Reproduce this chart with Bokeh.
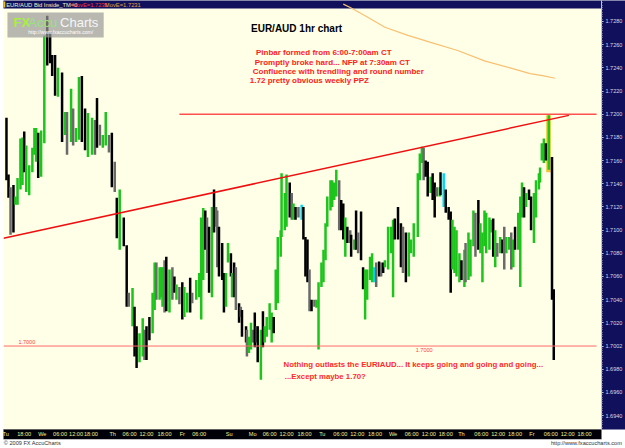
import numpy as np
from bokeh.plotting import figure
from bokeh.models import (Range1d, FixedTicker, NumeralTickFormatter, Label,
                          BoxAnnotation, ColumnDataSource, LinearAxis)
from bokeh.embed import file_html
from bokeh.resources import INLINE

# ---------------- data (chart hours since Tue ~12:00, EUR/AUD price) ----------------
bar_t = [0.0, 0.7, 1.4, 2.4, 3.1, 3.8, 4.8, 5.5, 6.1, 6.8, 7.8, 8.9, 9.6, 10.2, 10.9, 11.9,
         13.0, 14.0, 15.0, 15.7, 16.7, 17.7, 19.1, 20.1, 20.8, 22.2, 22.9, 23.9, 24.9, 25.9,
         27.0, 28.0, 29.4, 30.4, 31.1, 32.1, 33.1, 34.1, 35.2, 36.2, 37.2, 37.9, 38.9, 40.3,
         41.3, 42.0, 43.3, 44.0, 44.7, 45.7, 46.8, 47.4, 48.1, 49.1, 50.2, 50.9, 51.5, 52.6,
         53.2, 53.6, 54.3, 54.9, 56.0, 57.0, 57.7, 58.4, 59.4, 60.4, 61.1, 62.1, 63.1, 63.8,
         65.2, 66.2, 66.9, 67.6, 68.3, 68.9, 69.6, 70.6, 71.3, 72.0, 72.4, 73.0, 74.1, 74.7,
         75.4, 76.1, 77.1, 77.5, 78.2, 78.8, 79.9, 80.5, 80.9, 82.3, 82.6, 83.3, 84.0, 84.6,
         85.3, 86.0, 86.3, 87.4, 88.1, 88.7, 89.4, 90.4, 91.1, 91.8, 92.5, 93.2, 94.2, 94.5,
         95.6, 96.2, 97.3, 98.0, 98.6, 99.3, 100.3, 101.4, 102.0, 102.7, 103.4, 104.1, 104.8,
         105.8, 106.5, 107.2, 108.2, 108.9, 109.6, 110.2, 111.3, 111.9, 112.6, 113.3, 114.3,
         115.0, 115.7, 116.4, 117.1, 118.1, 118.4, 119.5, 120.1, 120.8, 121.8, 122.5, 123.2,
         123.9, 124.9, 125.6, 126.3, 127.0, 128.0, 128.7, 129.4, 130.0, 131.1, 132.1, 132.8,
         133.4, 134.5, 135.5, 136.2, 137.2, 138.2, 138.9, 139.9, 141.3, 142.0, 142.7, 143.3,
         144.0, 144.7, 145.7, 146.4, 147.1, 147.8, 148.8, 149.1, 150.2, 150.9, 151.9, 152.6,
         153.2, 153.9, 154.6, 155.6, 156.3, 157.3, 157.7, 158.7, 159.4, 160.4, 161.1, 162.1,
         162.8, 163.5, 164.2, 164.8, 165.9, 166.6, 167.2, 167.9, 168.6, 169.6, 170.3, 171.0,
         171.7, 172.7, 173.4, 174.1, 174.7, 175.8, 176.5, 177.1, 177.8, 178.5, 179.5, 180.2,
         181.2, 181.9, 182.9, 183.3, 183.9, 184.6, 185.3, 186.3, 187.4, 188.0]

bar_high = [1.7197, 1.7148, 1.7137, 1.7139, 1.7129, 1.7145, 1.7179, 1.7180, 1.7185, 1.7173,
            1.7156, 1.7171, 1.7188, 1.7188, 1.7184, 1.7186, 1.7268, 1.7285, 1.7271, 1.7251,
            1.7251, 1.7240, 1.7236, 1.7202, 1.7202, 1.7222, 1.7205, 1.7188, 1.7232, 1.7233,
            1.7205, 1.7201, 1.7197, 1.7195, 1.7214, 1.7191, 1.7182, 1.7202, 1.7182, 1.7184,
            1.7159, 1.7128, 1.7135, 1.7111, 1.7087, 1.7046, 1.7050, 1.7034, 1.7017, 1.7011,
            1.7024, 1.7014, 1.7017, 1.7025, 1.7046, 1.7072, 1.7072, 1.7068, 1.7068, 1.7068,
            1.7074, 1.7077, 1.7066, 1.7068, 1.7060, 1.7053, 1.7051, 1.7055, 1.7051, 1.7046,
            1.7059, 1.7046, 1.7057, 1.7063, 1.7111, 1.7119, 1.7117, 1.7111, 1.7103, 1.7120,
            1.7135, 1.7120, 1.7117, 1.7103, 1.7089, 1.7063, 1.7063, 1.7089, 1.7080, 1.7063,
            1.7072, 1.7068, 1.7037, 1.7034, 1.7031, 1.7017, 1.7014, 1.7008, 1.7020, 1.7014,
            1.7029, 1.7017, 1.7017, 1.7014, 1.7030, 1.7017, 1.7025, 1.7037, 1.7029, 1.7025,
            1.7066, 1.7094, 1.7100, 1.7149, 1.7132, 1.7148, 1.7141, 1.7132, 1.7123, 1.7120,
            1.7120, 1.7122, 1.7120, 1.7094, 1.7092, 1.7066, 1.7040, 1.7040, 1.7040, 1.7055,
            1.7072, 1.7083, 1.7106, 1.7129, 1.7143, 1.7143, 1.7141, 1.7152, 1.7143, 1.7126,
            1.7123, 1.7111, 1.7103, 1.7100, 1.7096, 1.7092, 1.7117, 1.7098, 1.7116, 1.7068,
            1.7066, 1.7066, 1.7077, 1.7080, 1.7068, 1.7072, 1.7073, 1.7072, 1.7072, 1.7074,
            1.7103, 1.7103, 1.7109, 1.7110, 1.7120, 1.7106, 1.7103, 1.7098, 1.7098, 1.7092,
            1.7106, 1.7149, 1.7166, 1.7172, 1.7171, 1.7160, 1.7159, 1.7146, 1.7149, 1.7141,
            1.7137, 1.7137, 1.7150, 1.7149, 1.7135, 1.7120, 1.7116, 1.7109, 1.7103, 1.7100,
            1.7080, 1.7074, 1.7083, 1.7089, 1.7098, 1.7092, 1.7117, 1.7115, 1.7126, 1.7106,
            1.7098, 1.7117, 1.7115, 1.7111, 1.7109, 1.7110, 1.7100, 1.7089, 1.7094, 1.7092,
            1.7103, 1.7094, 1.7094, 1.7098, 1.7092, 1.7103, 1.7115, 1.7129, 1.7141, 1.7137,
            1.7132, 1.7135, 1.7129, 1.7132, 1.7143, 1.7149, 1.7154, 1.7175, 1.7179, 1.7175,
            1.7199, 1.7163, 1.7049]

bar_low = [1.7143, 1.7128, 1.7096, 1.7098, 1.7122, 1.7122, 1.7135, 1.7139, 1.7150, 1.7133,
           1.7130, 1.7150, 1.7165, 1.7159, 1.7145, 1.7146, 1.7175, 1.7242, 1.7244, 1.7233,
           1.7216, 1.7215, 1.7176, 1.7182, 1.7165, 1.7176, 1.7173, 1.7176, 1.7178, 1.7176,
           1.7169, 1.7163, 1.7165, 1.7165, 1.7171, 1.7173, 1.7171, 1.7173, 1.7167, 1.7137,
           1.7133, 1.7093, 1.7083, 1.7086, 1.7034, 1.7034, 1.7017, 1.6991, 1.6981, 1.6986,
           1.6991, 1.6988, 1.6988, 1.7005, 1.7011, 1.7031, 1.7040, 1.7040, 1.7042, 1.7034,
           1.7029, 1.7030, 1.7029, 1.7040, 1.7046, 1.7040, 1.7036, 1.7023, 1.7025, 1.7029,
           1.7029, 1.7037, 1.7040, 1.7042, 1.7023, 1.7057, 1.7083, 1.7063, 1.7046, 1.7042,
           1.7098, 1.7103, 1.7068, 1.7060, 1.7057, 1.7029, 1.7034, 1.7072, 1.7060, 1.7042,
           1.7042, 1.7031, 1.7020, 1.7025, 1.7008, 1.7003, 1.6991, 1.6994, 1.6997, 1.7003,
           1.6999, 1.7003, 1.6986, 1.6971, 1.6999, 1.7003, 1.7008, 1.7014, 1.7003, 1.7011,
           1.7031, 1.7037, 1.7077, 1.7094, 1.7100, 1.7103, 1.7111, 1.7109, 1.7109, 1.7109,
           1.7111, 1.7109, 1.7092, 1.7060, 1.7055, 1.7030, 1.7030, 1.7034, 1.7033, 1.6997,
           1.7051, 1.7055, 1.7074, 1.7103, 1.7117, 1.7120, 1.7126, 1.7129, 1.7100, 1.7100,
           1.7092, 1.7077, 1.7089, 1.7089, 1.7077, 1.7083, 1.7083, 1.7080, 1.7074, 1.7049,
           1.7023, 1.7040, 1.7057, 1.7055, 1.7055, 1.7051, 1.7060, 1.7060, 1.7063, 1.7068,
           1.7066, 1.7080, 1.7042, 1.7092, 1.7092, 1.7068, 1.7063, 1.7055, 1.7060, 1.7080,
           1.7077, 1.7094, 1.7143, 1.7158, 1.7143, 1.7146, 1.7129, 1.7132, 1.7126, 1.7111,
           1.7129, 1.7129, 1.7130, 1.7120, 1.7115, 1.7109, 1.7046, 1.7066, 1.7063, 1.7060,
           1.7055, 1.7057, 1.7051, 1.7055, 1.7057, 1.7060, 1.7086, 1.7077, 1.7083, 1.7080,
           1.7055, 1.7086, 1.7080, 1.7083, 1.7098, 1.7077, 1.7068, 1.7077, 1.7080, 1.7080,
           1.7066, 1.7080, 1.7083, 1.7066, 1.7068, 1.7083, 1.7083, 1.7051, 1.7111, 1.7111,
           1.7120, 1.7126, 1.7100, 1.7089, 1.7111, 1.7135, 1.7141, 1.7160, 1.7158, 1.7160,
           1.7152, 1.7040, 1.6988]

# g = up bar (green), k = down bar (black), gr = down bar mostly wick (grey), c = cyan bar
bar_kind = ("k k gr k g g g g k g "
            "g g g g k g g k k k "
            "k g k g gr g gr g g k "
            "k g g gr k gr g g gr k "
            "gr k g k k gr g k k g "
            "g gr k k g g gr g g g "
            "gr k g gr k g gr k g g "
            "k gr g g g g k gr k g "
            "k gr gr k k k g g k g "
            "k gr k gr k k gr g g gr "
            "k gr k g k g g g g k "
            "g g g g g g k gr g k "
            "gr c k k k gr k gr g g "
            "g g g g g g g g gr k "
            "k g k gr k g k gr k k "
            "g g g g c gr k gr k g "
            "g g g k k k gr k g g "
            "g g g g gr k k g k k "
            "gr g k c k k k g g g "
            "g k g gr g g g gr k g "
            "g g g g g k g gr g k "
            "gr g g gr g k g g g k "
            "g k k g g g g g g k "
            "g k k").split()

ma_t = [115.7, 118.1, 123.2, 130.0, 137.9, 145.7, 155.0, 164.2, 173.0, 179.9, 184.6, 188.4]
ma_price = [1.7295, 1.7292, 1.7285, 1.7275, 1.7268, 1.7262, 1.7255, 1.7246, 1.7240,
            1.7235, 1.7233, 1.7231]

trend_t = [-1.0, 193.2]
trend_price = [1.7093, 1.7199]
level_172_t = [59.4, 202.7]
level_170_t = [-1.0, 202.7]
last_price = 1.7002

price_ticks = [1.694, 1.696, 1.698, 1.700, 1.702, 1.704, 1.706, 1.708, 1.710, 1.712,
               1.714, 1.716, 1.718, 1.720, 1.722, 1.724, 1.726, 1.728]
time_ticks = [-0.3, 6.1, 12.3, 18.4, 23.9, 29.0, 36.5, 42.3, 48.1, 54.3, 60.4, 66.2, 76.5,
              84.6, 90.4, 96.2, 102.4, 108.5, 114.7, 120.5, 126.6, 132.8, 139.2, 145.1,
              150.9, 156.3, 163.1, 168.9, 174.7, 180.5, 187.0, 192.8, 198.6]
time_labels = ["Tu", "18:00", "We", "06:00", "12:00", "18:00", "Th", "06:00", "12:00",
               "18:00", "Fr", "06:00", "Su", "Mo", "06:00", "12:00", "18:00", "Tu", "06:00",
               "12:00", "18:00", "We", "06:00", "12:00", "18:00", "Th", "06:00", "12:00",
               "18:00", "Fr", "06:00", "12:00", "18:00"]
footer_ticks = [8.9, 199.2]
footer_labels = ["\u00a9 2009 FX AccuCharts", "http://www.fxaccucharts.com"]

FONT = "Liberation Sans"
NAVY = "#10105C"
kind_color = {"g": "#1CC41C", "k": "#000000", "gr": "#6A6A6A", "c": "#00D8F0"}

Y_TOP, Y_PLOT_TOP, Y_BOTTOM = 1.72981, 1.72912, 1.69280
X_LEFT, X_RIGHT = -1.02, 204.4

p = figure(width=625, height=448, output_backend="svg", toolbar_location=None,
           x_range=Range1d(X_LEFT, X_RIGHT), y_range=Range1d(Y_BOTTOM, Y_TOP),
           y_axis_location="right", min_border_left=3, min_border_right=20,
           min_border_top=0, min_border_bottom=18,
           background_fill_color="#FFFFE8", border_fill_color=NAVY,
           outline_line_color=None)
p.grid.visible = False

xax = p.xaxis[0]
yax = p.yaxis[0]
axis_bg = "background_fill_color" in yax.properties()

# header strip (top rows of the frame)
p.quad(left=[X_LEFT - 5], right=[X_RIGHT + 5], top=[Y_TOP + 0.001], bottom=[Y_PLOT_TOP],
       fill_color=NAVY, line_color=None)
p.quad(left=[X_LEFT - 5], right=[-0.4], top=[1.72972], bottom=[1.72920],
       fill_color="#F0C000", line_color=None)

# pin bar highlight
p.quad(left=[185.4], right=[187.0], top=[1.7199], bottom=[1.7150],
       fill_color="#F2C42A", fill_alpha=0.95, line_color=None)

src = ColumnDataSource(dict(t=bar_t, high=bar_high, low=bar_low,
                            color=[kind_color[k] for k in bar_kind]))
p.segment(x0="t", y0="low", x1="t", y1="high", line_color="color", line_width=2.5,
          source=src)

p.line(ma_t, ma_price, line_color="#F8C070", line_width=1.2)
p.line(level_170_t, [1.7000, 1.7000], line_color="#FF6A6A", line_width=1)
p.line(level_172_t, [1.7200, 1.7200], line_color="#FF5050", line_width=1.6)
p.line(trend_t, trend_price, line_color="#EE1010", line_width=1.5)

# time axis
xax.ticker = FixedTicker(ticks=time_ticks)
xax.major_label_overrides = dict(zip(time_ticks, time_labels))
xax.major_tick_out = 0
xax.major_tick_in = 0
xax.minor_tick_out = 0
xax.axis_line_color = "#606060"
xax.major_label_standoff = 1
xax.major_label_text_font = FONT
xax.major_label_text_font_size = "5.6px"
xax.major_label_text_color = "#F4F090"

# footer row as a second, tickless axis
fax = LinearAxis(ticker=FixedTicker(ticks=footer_ticks),
                 major_label_overrides=dict(zip(footer_ticks, footer_labels)),
                 major_tick_out=0, major_tick_in=0, minor_tick_out=0, minor_tick_in=0,
                 axis_line_color=None, major_label_standoff=0,
                 major_label_text_font=FONT, major_label_text_font_size="5.6px",
                 major_label_text_color="#303030")
p.add_layout(fax, "below")

if axis_bg:
    p.border_fill_color = "#FFFFFF"
    xax.background_fill_color = "#000008"
    yax.background_fill_color = NAVY
    fax.background_fill_color = "#FFFFFF"

# price axis
yax.ticker = FixedTicker(ticks=price_ticks,
                         minor_ticks=list(np.arange(1.6930, 1.7298, 0.0002)))
yax.formatter = NumeralTickFormatter(format="0.0000")
yax.major_label_overrides = {1.700: "%.4f" % last_price}
yax.major_tick_out = 2
yax.major_tick_in = 0
yax.minor_tick_out = 1
yax.minor_tick_in = 0
yax.axis_line_color = "#C8C8D8"
yax.major_tick_line_color = "#D8D8E8"
yax.minor_tick_line_color = "#A8A8C0"
yax.major_label_standoff = 2
yax.major_label_text_font = FONT
yax.major_label_text_font_size = "5.5px"
yax.major_label_text_color = "#D8D8EC"

# header texts
for x, txt, col in [(-0.1, "EUR/AUD Bid Inside_TM=0", "#F0F0C8"),
                    (22.5, "MovE=1.7231", "#FF3030"),
                    (33.8, "MovE=1.7231", "#E0A040")]:
    p.add_layout(Label(x=x, y=1.72946, text=txt, text_font=FONT, text_font_size="5.8px",
                       text_baseline="middle", text_color=col))

# watermark logo
p.add_layout(BoxAnnotation(left=0.34, right=33.4, top=1.72877, bottom=1.72662,
                           fill_color="#9A9A9A", fill_alpha=0.7, line_color=None))
for x, txt, col, style in [(2.4, "FX", "#A8F040", "bold"), (7.5, "Accu", "#9CE07C", "normal"),
                           (18.4, "Charts", "#F6F6F6", "normal")]:
    p.add_layout(Label(x=x, y=1.72791, text=txt, text_font=FONT, text_font_size="13px",
                       text_font_style=style, text_baseline="middle", text_color=col))
p.add_layout(Label(x=7.5, y=1.72705, text="http://www.fxaccucharts.com/", text_font=FONT,
                   text_font_size="5px", text_baseline="middle", text_color="#FFFFFF"))

# chart annotations
p.add_layout(Label(x=84.0, y=1.7274, text="EUR/AUD 1hr chart", text_font=FONT,
                   text_font_size="10px", text_font_style="bold", text_baseline="middle",
                   text_color="#000000"))
for x, y, txt in [(85.7, 1.72533, "Pinbar formed from 6:00-7:00am CT"),
                  (85.3, 1.72447, "Promptly broke hard... NFP at 7:30am CT"),
                  (84.6, 1.72370, "Confluence with trendling and round number"),
                  (83.6, 1.72292, "1.72 pretty obvious weekly PPZ")]:
    p.add_layout(Label(x=x, y=y, text=txt, text_font=FONT, text_font_size="8px",
                       text_font_style="bold", text_baseline="middle", text_color="#FF2020"))
for x, y, txt in [(95.2, 1.69840,
                   "Nothing outlasts the EURIAUD... It keeps going and going and going..."),
                  (95.6, 1.69736, "...Except maybe 1.70?")]:
    p.add_layout(Label(x=x, y=y, text=txt, text_font=FONT, text_font_size="7.8px",
                       text_font_style="bold", text_baseline="middle", text_color="#FF2A2A"))
for x, y in [(4.1, 1.70037), (140.6, 1.69969)]:
    p.add_layout(Label(x=x, y=y, text="1.7000", text_font=FONT, text_font_size="5.5px",
                       text_baseline="middle", text_color="#FF4040"))

open("out.html", "w").write(file_html(p, INLINE))
